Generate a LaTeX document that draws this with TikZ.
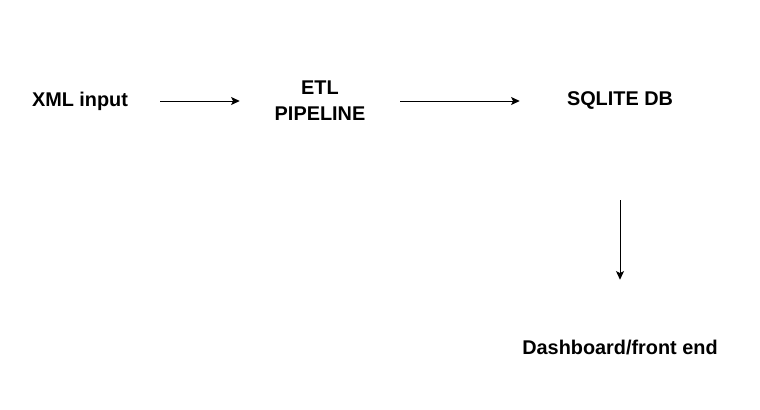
\documentclass[tikz,border=0pt]{standalone}
\usepackage{fontspec}
\setmainfont{Liberation Sans}
\usetikzlibrary{arrows.meta}

\tikzset{
  stage/.style={minimum width=90pt, minimum height=45pt, inner sep=0pt, align=center,
    font=\fontsize{14.9}{19.5}\selectfont\bfseries},
  flow/.style={line width=0.75pt, -{Stealth[length=6.5pt,width=6pt,inset=1.5pt]}}
}

\begin{document}
\begin{tikzpicture}[x=0.75pt,y=-0.75pt]
\useasboundingbox (0,0) rectangle (760,410);

\node[stage] (xml) at (80,101) {XML input};
\node[stage] (etl) at (320,101) {ETL\\PIPELINE};
\node[stage] (sqlite) at (620,101) {SQLITE DB};
\node[stage] (dash) at (620,347) {Dashboard/front end};

% connectors
\draw[flow, shorten <=15pt, shorten >=15pt] (xml) -- (etl);
\draw[flow, shorten <=15pt, shorten >=30pt] (etl) -- (sqlite);
\draw[flow, shorten <=51.75pt, shorten >=27.75pt] (sqlite) -- (dash);

\end{tikzpicture}
\end{document}
